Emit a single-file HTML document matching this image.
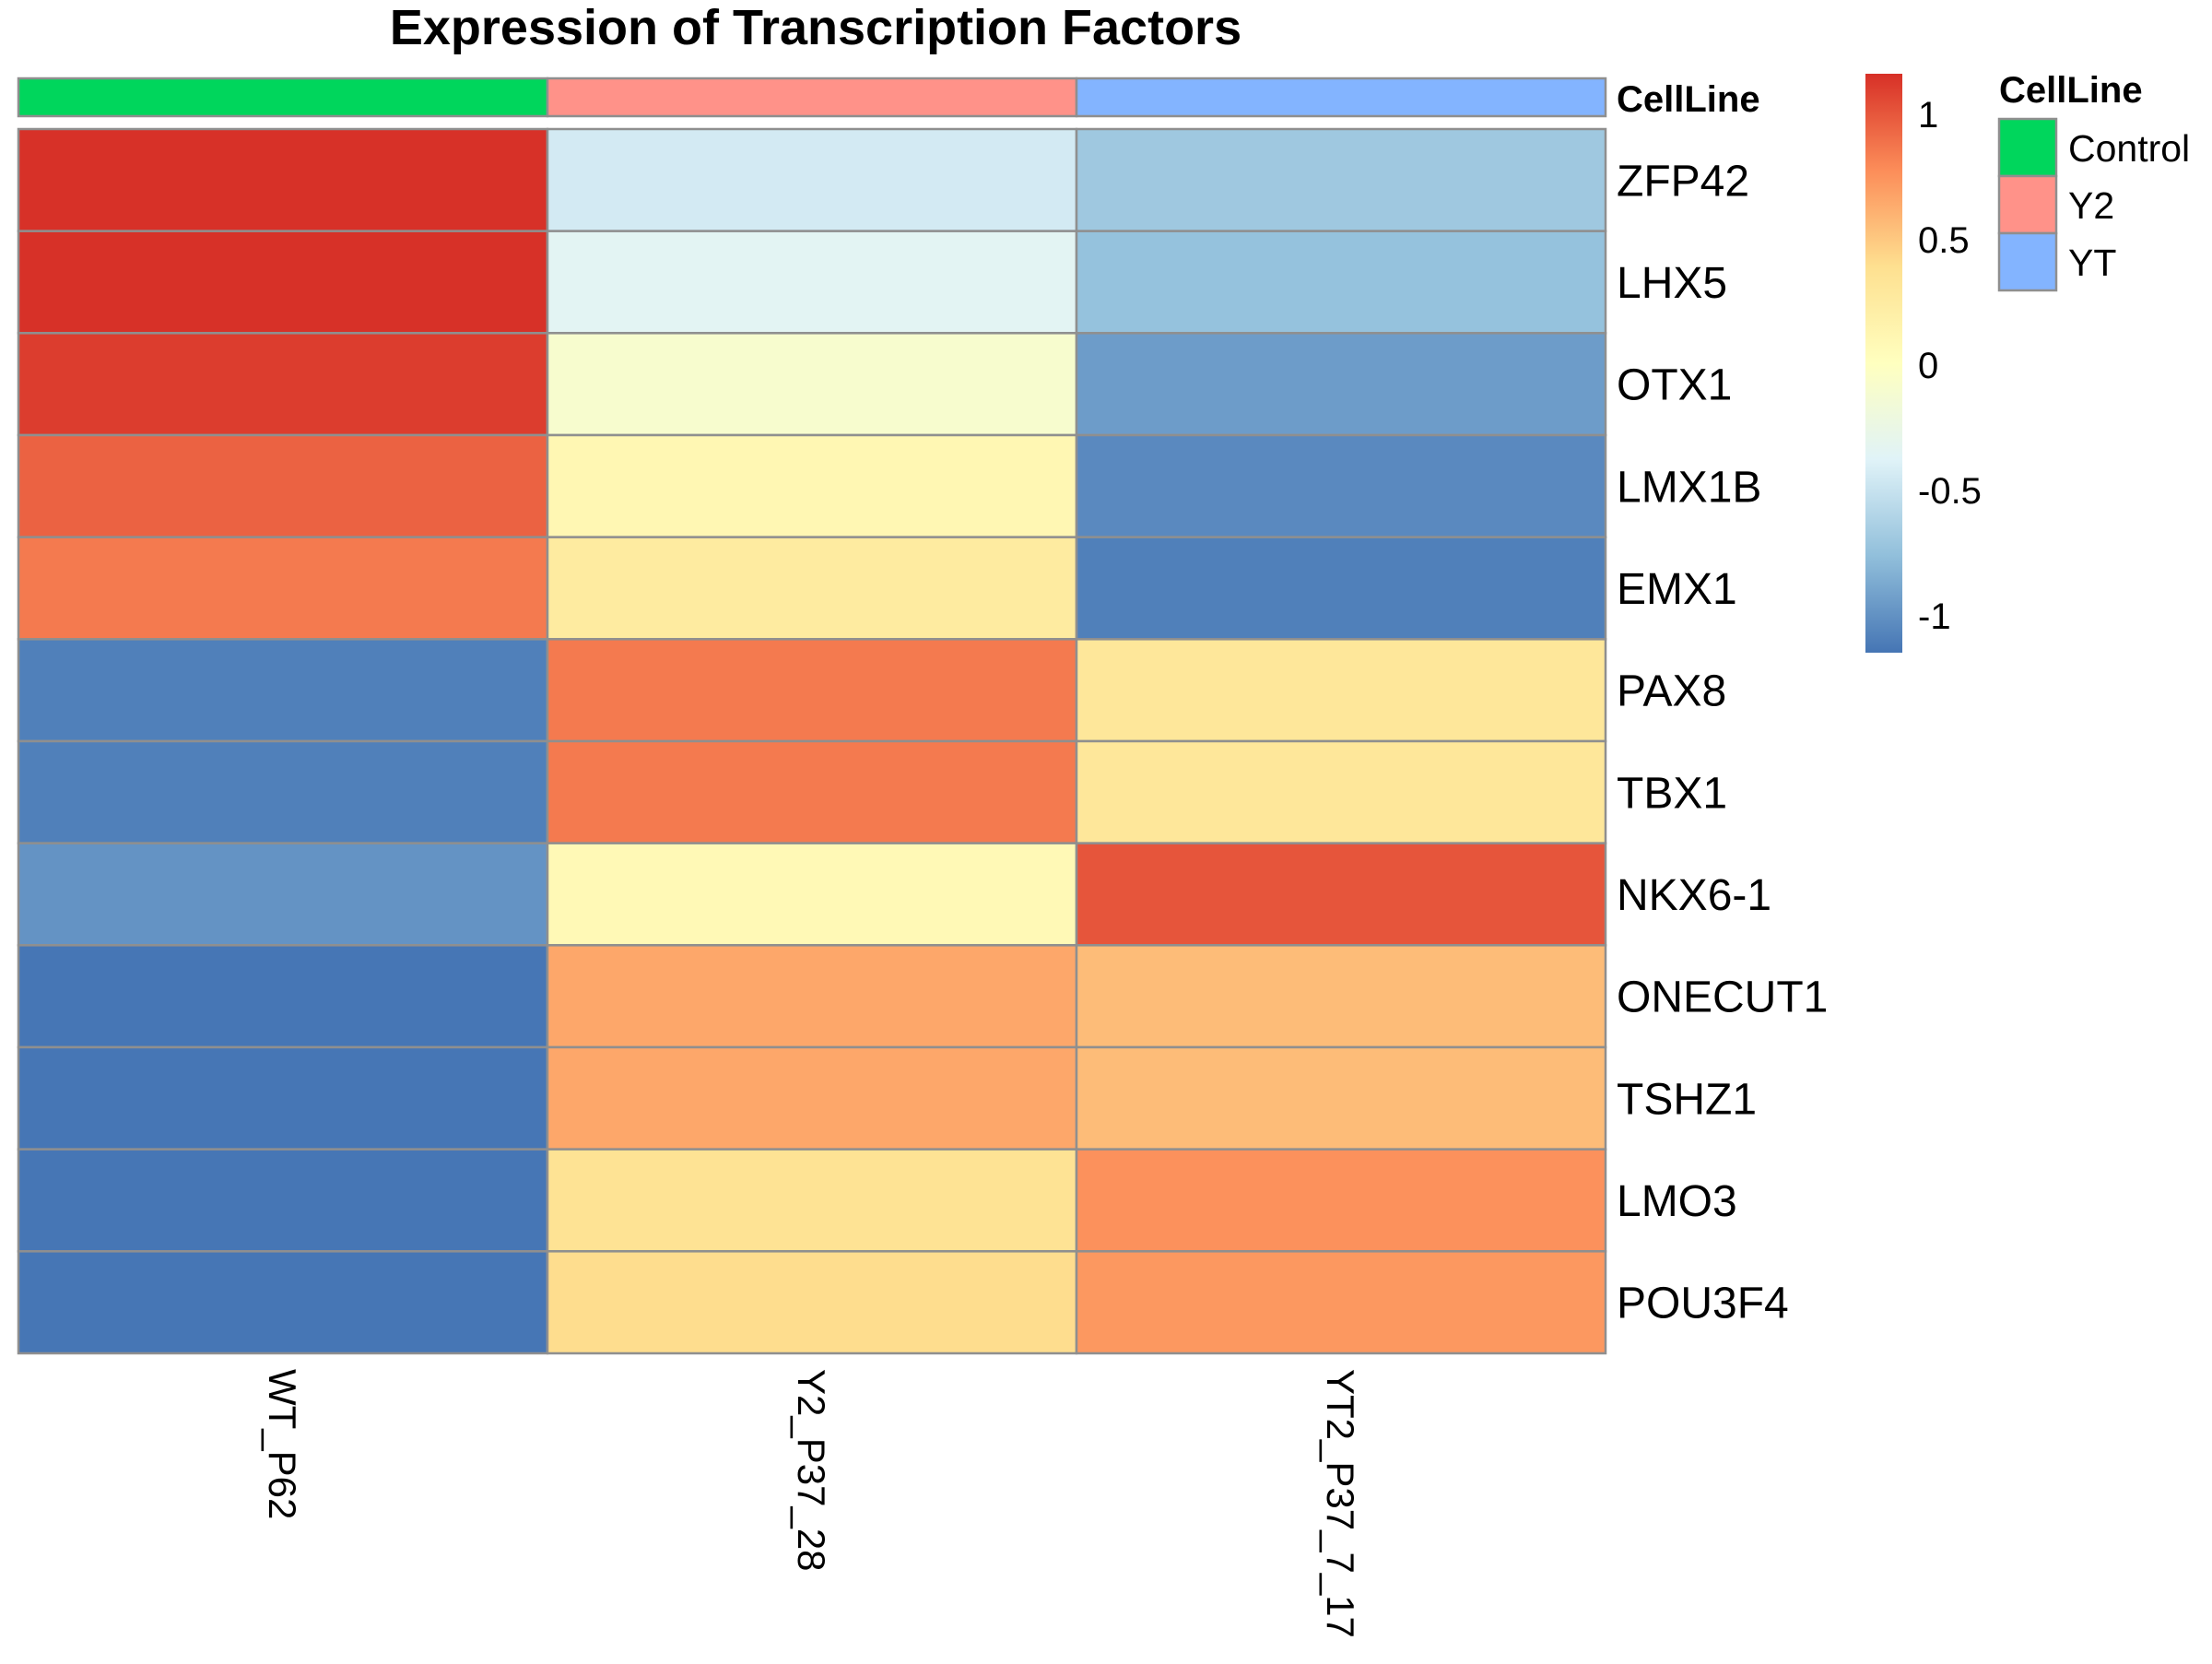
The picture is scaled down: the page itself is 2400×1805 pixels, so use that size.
<!DOCTYPE html>
<html><head><meta charset="utf-8"><style>
html,body{margin:0;padding:0;background:#fff;}
svg text{font-family:"Liberation Sans",Arial,sans-serif;}
</style></head><body>
<svg id="chart" width="2400" height="1800" viewBox="0 0 2400 1800" xmlns="http://www.w3.org/2000/svg">
<defs>
<linearGradient id="cbgrad" x1="0" y1="1" x2="0" y2="0">
<stop offset="0" stop-color="#4575B4"/><stop offset="0.1667" stop-color="#91BFDB"/><stop offset="0.3333" stop-color="#E0F3F8"/><stop offset="0.5" stop-color="#FFFFBF"/><stop offset="0.6667" stop-color="#FEE090"/><stop offset="0.8333" stop-color="#FC8D59"/><stop offset="1" stop-color="#D73027"/>
</linearGradient>
</defs>
<text x="885" y="48" font-size="54" font-weight="bold" text-anchor="middle">Expression of Transcription Factors</text>
<g id="anno"></g>
<text x="1754" y="121" font-size="40" font-weight="bold">CellLine</text>
<g id="cells"></g>
<g id="rowlabels"></g>
<g id="collabels"></g>
<rect x="2024" y="80" width="40" height="628" fill="url(#cbgrad)"/>
<g id="cbticks"></g>
<text x="2169" y="111" font-size="40" font-weight="bold">CellLine</text>
<g id="legend"></g>
</svg>
<script>
const rowNames = ["ZFP42","LHX5","OTX1","LMX1B","EMX1","PAX8","TBX1","NKX6-1","ONECUT1","TSHZ1","LMO3","POU3F4"];
const colNames = ["WT_P62","Y2_P37_28","YT2_P37_7_17"];
const colGroups = ["Control","Y2","YT"];
const valsWT = [1.15,1.15,1.1,0.95,0.85,-1.1,-1.1,-1.0,-1.15,-1.15,-1.15,-1.15];
const valsY2 = [-0.45,-0.35,-0.1,0.1,0.25,0.85,0.85,0.07,0.65,0.65,0.35,0.4];
const valsYT = [-0.7,-0.75,-0.95,-1.05,-1.1,0.3,0.3,1.0,0.55,0.55,0.75,0.72];
const cbTicks = [1,0.5,0,-0.5,-1];
const cbTickLabels = ["1","0.5","0","-0.5","-1"];
const groupNames = ["Control","Y2","YT"];
const groupColors = ["#00D65C","#FF9289","#83B4FF"];

const NS="http://www.w3.org/2000/svg";
const vmin=-1.155, vmax=1.155;
const stops=["#4575B4","#91BFDB","#E0F3F8","#FFFFBF","#FEE090","#FC8D59","#D73027"];
function hex(h){return [1,3,5].map(i=>parseInt(h.substr(i,2),16));}
function colorOf(v){let t=(v-vmin)/(vmax-vmin);t=Math.max(0,Math.min(1,t));const p=t*(stops.length-1);const i=Math.min(stops.length-2,Math.floor(p));const f=p-i;const a=hex(stops[i]),b=hex(stops[i+1]);return "rgb("+a.map((x,k)=>Math.round(x+(b[k]-x)*f)).join(",")+")";}
const X0=20,X1=1742,Y0=140,Y1=1468;
const cw=(X1-X0)/colNames.length, rh=(Y1-Y0)/rowNames.length;
const xPos=j=>X0+j*cw, yPos=i=>Y0+i*rh;
const cbY=v=>395-v*272;
function mk(tag,attrs,parent,txt){const e=document.createElementNS(NS,tag);for(const k in attrs)e.setAttribute(k,attrs[k]);if(txt!==undefined)e.textContent=txt;parent.appendChild(e);return e;}
const series=[valsWT,valsY2,valsYT];
const cells=document.getElementById('cells');
series.forEach((vals,j)=>{vals.forEach((v,i)=>{
 const r=mk('rect',{x:xPos(j),y:yPos(i),width:cw,height:rh,fill:colorOf(v),stroke:'#8f8f8f','stroke-width':2.5},cells);
 
 
});});
const anno=document.getElementById('anno');
colGroups.forEach((g,j)=>{
 const r=mk('rect',{x:xPos(j),y:85,width:cw,height:41,fill:groupColors[groupNames.indexOf(g)],stroke:'#8f8f8f','stroke-width':2.5},anno);
 
 
});
const rl=document.getElementById('rowlabels');
rowNames.forEach((n,i)=>{
 const t=mk('text',{x:1754,y:yPos(i)+rh/2+17,'font-size':48},rl,n);
 
 
});
const cl=document.getElementById('collabels');
colNames.forEach((n,j)=>{
 const cx=xPos(j)+cw/2;
 const t=mk('text',{x:0,y:0,'font-size':42,transform:'translate('+(cx-15)+',1485) rotate(90)'},cl,n);
 
 
});
const cb=document.getElementById('cbticks');
cbTicks.forEach((v,k)=>{
 const t=mk('text',{x:2081,y:cbY(v)+15,'font-size':40},cb,cbTickLabels[k]);
 
 
});
const lg=document.getElementById('legend');
groupNames.forEach((g,k)=>{
 const y=129+k*62;
 const r=mk('rect',{x:2169,y:y,width:62,height:62,fill:groupColors[k],stroke:'#8f8f8f','stroke-width':2.5},lg);
 
 
 const t=mk('text',{x:2244,y:y+46,'font-size':41},lg,g);
 
 
});
</script>
</body></html>
